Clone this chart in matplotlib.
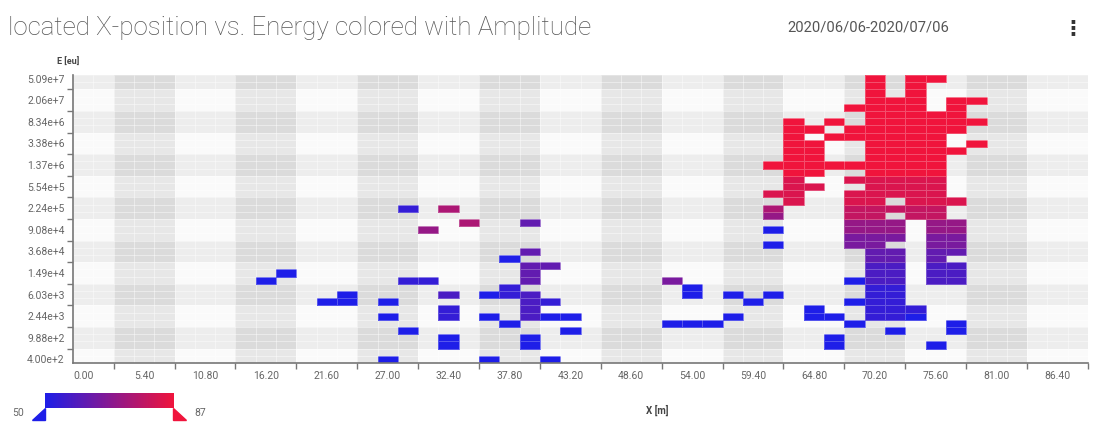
import numpy as np
import matplotlib.pyplot as plt
from matplotlib.colors import LinearSegmentedColormap
from matplotlib.patches import Polygon
from matplotlib.ticker import FixedLocator, FixedFormatter, NullFormatter

plt.rcParams['font.family'] = ['Roboto', 'DejaVu Sans']

x_labels = ['0.00', '5.40', '10.80', '16.20', '21.60', '27.00', '32.40', '37.80', '43.20',
            '48.60', '54.00', '59.40', '64.80', '70.20', '75.60', '81.00', '86.40']
y_labels = ['4.00e+2', '9.88e+2', '2.44e+3', '6.03e+3', '1.49e+4', '3.68e+4', '9.08e+4',
            '2.24e+5', '5.54e+5', '1.37e+6', '3.38e+6', '8.34e+6', '2.06e+7', '5.09e+7']
amp_min, amp_max = 50, 87
# colour level (0..9) -> amplitude
level_amp = [50, 54, 58, 62, 66, 71, 75, 79, 83, 87]

# amplitude level per cell, top row (5.09e+7) first, columns of 1.8 m from 0.00
amp_grid = [
    ".......... .......... .......... .........9 .99.......",
    ".......... .......... .......... .........9 .9........",
    ".......... .......... .......... .........9 .9........",
    ".......... .......... .......... .........9 99.99.....",
    ".......... .......... .......... ........99 99.9......",
    ".......... .......... .......... .........9 9999......",
    ".......... .......... .......... .....9.9.9 99999.....",
    ".......... .......... .......... .....99.99 9999......",
    ".......... .......... .......... .....9.999 999.......",
    ".......... .......... .......... .....99..9 999.9.....",
    ".......... .......... .......... .....99..9 9999......",
    ".......... .......... .......... .....99..9 999.......",
    ".......... .......... .......... ....999999 999.......",
    ".......... .......... .......... .....99..9 999.......",
    ".......... .......... .......... .....8..88 888.......",
    ".......... .......... .......... .....88..8 888.......",
    ".......... .......... .......... ....88..88 888.......",
    ".......... .......... .......... .....8..88 .888......",
    ".......... ......1.6. .......... ....6...77 777.......",
    ".......... .......... .......... ....5...77 .77.......",
    ".......... .........6 ..3....... ........55 5.55......",
    ".......... .......5.. .......... ....0...55 5.55......",
    ".......... .......... .......... ........44 4.44......",
    ".......... .......... .......... ....0...44 ..44......",
    ".......... .......... ..3....... .........3 3.33......",
    ".......... .......... .0........ .........3 3.3.......",
    ".......... .......... ..33...... .........2 2.22......",
    ".......... 0......... ..3....... .........2 2.22......",
    ".........0 ......11.. ..3......4 ........02 2.22......",
    ".......... .......... .1........ 0........1 1.........",
    ".......... ...0....2. 012....... 0.0.0....1 1.........",
    ".......... ..00.0.... ..21...... ...0....01 1.........",
    ".......... ........1. ..2....... ......0..1 11........",
    ".......... .....0..1. 0.200..... ..0...00.1 10........",
    ".......... .......... .0.......0 00......0. ...0......",
    ".......... ......0... ....0..... .......... 0..0......",
    ".......... ........0. ..0....... .......0.. ..........",
    ".......... ........0. ..0....... .......0.. ..0.......",
    ".......... .......... .......... .......... ..........",
    ".......... .....0.... 0..0...... .......... ..........",
]

W, H = 1100, 424
fig = plt.figure(figsize=(W / 100, H / 100), dpi=100)
fig.patch.set_facecolor('white')


def fx(px):
    return px / W


def fy(py):
    return 1 - py / H


ax = fig.add_axes([fx(73), fy(363), fx(1088) - fx(73), fy(75) - fy(363)])

bin_w = 1.8
n_rows = len(amp_grid)
n_cols = len(amp_grid[0].replace(' ', ''))
e_lo, e_hi = float(y_labels[0]), float(y_labels[-1])
q = (e_hi / e_lo) ** (1 / (n_rows - 1))
x_edges = bin_w * (np.arange(n_cols + 1) - 0.5)
e_edges = e_lo * q ** (np.arange(n_rows + 1) - 0.5)

Z = np.full((n_rows, n_cols), np.nan)
for i, row in enumerate(amp_grid):
    row = row.replace(' ', '')
    r = n_rows - 1 - i
    for j, ch in enumerate(row):
        if ch != '.':
            Z[r, j] = level_amp[int(ch)]

cmap = LinearSegmentedColormap.from_list('amp', ['#1e1ee8', '#f0143c'])

# background bands
x_pos = [float(v) for v in x_labels]
band = x_pos[1] - x_pos[0]
ax.set_facecolor('#fafafa')
for k, xc in enumerate(x_pos):
    if k % 2 == 1:
        ax.axvspan(xc - band / 2, xc + band / 2, color='#e7e7e7', lw=0, zorder=0)
for k in range(len(y_labels)):
    if k % 2 == 1:
        ax.axhspan(e_lo * q ** (3 * k - 1.5), e_lo * q ** (3 * k + 1.5),
                   color='k', alpha=0.05, lw=0, zorder=0.5)

ax.pcolormesh(x_edges, e_edges, np.ma.masked_invalid(Z), cmap=cmap, vmin=amp_min, vmax=amp_max,
              edgecolors=(1, 1, 1, 0.25), linewidth=0.4, zorder=2)

ax.set_xlim(x_edges[0], x_edges[-1])
ax.set_yscale('log')
ax.set_ylim(e_edges[0], e_edges[-1])

ax.set_xticks(x_pos)
ax.set_xticklabels(x_labels)
ax.set_xticks([xc + band / 2 for xc in x_pos], minor=True)
y_cent = [e_lo * q ** (3 * k) for k in range(len(y_labels))]
ax.yaxis.set_major_locator(FixedLocator(y_cent))
ax.yaxis.set_major_formatter(FixedFormatter(y_labels))
ax.yaxis.set_minor_locator(FixedLocator([e_lo * q ** (3 * k + 1.5) for k in range(len(y_labels) - 1)]))
ax.yaxis.set_minor_formatter(NullFormatter())
ax.tick_params(which='major', length=0, labelsize=7.5, labelcolor='#666', pad=6)
ax.tick_params(which='minor', length=4, color='#777', width=1)
for s in ['top', 'right']:
    ax.spines[s].set_visible(False)
for s in ['left', 'bottom']:
    ax.spines[s].set_color('#777')
    ax.spines[s].set_linewidth(1.2)

# header
fig.text(fx(8), fy(28), 'located X-position vs. Energy colored with Amplitude', fontsize=18.7,
         color='#555', fontweight='light', va='center', ha='left')
fig.text(fx(787), fy(28), '2020/06/06-2020/07/06', fontsize=10.6, color='#555',
         va='center', ha='left')
fig.text(fx(1073), fy(28), '\u22ee', fontsize=15, fontweight='bold', color='#333',
         va='center', ha='center', family='DejaVu Sans')
fig.text(fx(68), fy(62), 'E [eu]', fontsize=6.5, fontweight='bold', color='#444', ha='center', va='center')
fig.text(fx(657), fy(410), 'X [m]', fontsize=7, fontweight='bold', color='#444', ha='center', va='center')

# colour legend
cax = fig.add_axes([fx(45), fy(408), fx(173) - fx(45), fy(393) - fy(408)])
cax.imshow(np.linspace(0, 1, 256)[None, :], aspect='auto', cmap=cmap)
cax.set_axis_off()
fig.add_artist(Polygon([(fx(32), fy(420)), (fx(45), fy(420)), (fx(45), fy(408))],
                       closed=True, color=cmap(0.0), transform=fig.transFigure))
fig.add_artist(Polygon([(fx(173), fy(408)), (fx(173), fy(420)), (fx(186), fy(420))],
                       closed=True, color=cmap(1.0), transform=fig.transFigure))
fig.text(fx(18), fy(413), str(amp_min), fontsize=7.5, color='#666', ha='center', va='center')
fig.text(fx(200), fy(413), str(amp_max), fontsize=7.5, color='#666', ha='center', va='center')

fig.savefig('out.png', dpi=100)
